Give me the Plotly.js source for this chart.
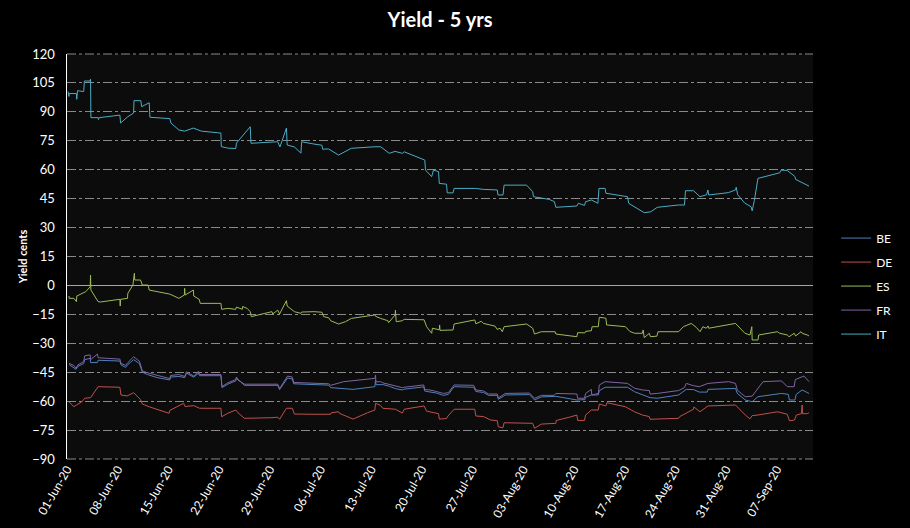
<!DOCTYPE html>
<html>
<head>
<meta charset="utf-8">
<script src="https://cdn.plot.ly/plotly-3.0.1.min.js"></script>
<style>html,body{margin:0;padding:0;background:#000;}#chart{width:910px;height:528px;}</style>
</head>
<body>
<div id="chart"></div>
<script>
// Days since 01-Jun-2020 (fractional) and yield values (cents)
const seriesNames = ["BE", "DE", "ES", "FR", "IT"];
const tickLabels = ["01-Jun-20","08-Jun-20","15-Jun-20","22-Jun-20","29-Jun-20","06-Jul-20","13-Jul-20","20-Jul-20","27-Jul-20","03-Aug-20","10-Aug-20","17-Aug-20","24-Aug-20","31-Aug-20","07-Sep-20"];
const tickDates = ["2020-06-01","2020-06-08","2020-06-15","2020-06-22","2020-06-29","2020-07-06","2020-07-13","2020-07-20","2020-07-27","2020-08-03","2020-08-10","2020-08-17","2020-08-24","2020-08-31","2020-09-07"];

const itDays = [0.15,0.27,0.3,1.3,1.35,1.45,2.3,2.4,3.2,3.25,3.3,4.3,4.35,4.45,7.3,7.4,8.4,9.2,9.25,10.2,10.3,11.35,11.45,14.2,14.35,15.45,16.25,17.45,18.3,18.55,21.25,21.3,22.2,23.3,23.4,25.3,25.4,29.1,29.4,30.3,30.4,31.4,32.3,32.4,34.1,35.2,35.3,36.1,37.5,39.25,42.5,43.3,44.5,45.3,46.3,46.55,49.4,49.5,50.35,50.6,51.3,51.4,52.4,52.5,53.3,53.45,56.4,57.5,59.4,59.5,60.2,60.35,63.45,64.3,64.4,65.2,66.6,67.3,67.5,70.4,70.6,71.45,71.6,72.4,73.3,73.45,74.3,74.4,77.4,77.55,78.75,79.7,80.6,81.5,84.4,85.25,85.4,86.5,87.4,88.3,88.5,88.6,91.3,92.3,92.4,92.6,93.6,94.45,94.6,94.9,95.4,98.4,98.6,99.45,100.5,100.6,102.45];
const itVals = [100.5,98,99.5,99.5,96.5,101,100.5,106,106,107,87,87,86,87,88.3,84.2,87.5,89.4,95.8,95.8,92.7,94.7,87.2,86.5,84.2,80.6,80,81.6,80.6,80,79,72,71.2,71,73.8,82.3,73.7,74.5,71.8,81.6,72.8,71.8,68.6,74.5,73.3,72.7,70.6,70.8,67.6,71.1,71.9,71.9,68.5,69.5,68.5,69.3,65,59.8,56.4,59.8,59,52.9,52.5,48,48,50.3,50.3,49.8,49.5,46.9,46.9,52,52,48.6,46,45.5,44.6,43.4,40.5,41.2,42.6,41.5,43.4,44.3,42.6,50.3,50.3,47.8,46,42.6,40,37.7,38.2,40.5,41.7,41.7,49.1,49.1,46,47,49.5,46.9,48.1,49.5,50.9,47,42.6,40.8,38.7,44,55.5,58.4,59.8,59.6,56.5,55,51.5];

const esDays = [0.27,0.3,0.95,1.3,1.35,2.0,2.6,3.2,3.25,3.3,4.3,4.6,7.3,7.35,7.4,8.35,8.4,9.1,9.3,9.35,10.15,10.4,11.2,11.35,14.2,15.45,16.2,16.25,16.3,17.45,17.5,18.25,18.4,21.25,21.35,22.2,23.3,23.4,24.2,24.25,24.9,25.3,25.45,26.4,28.3,28.4,29.1,29.35,30.3,30.4,31.4,32.3,32.4,34.1,35.2,35.45,36.15,36.4,37.5,38.45,39.25,42.5,42.6,43.3,44.3,44.4,45.3,45.35,45.45,46.3,46.55,49.3,49.65,50.35,50.45,51.4,51.45,51.5,53.3,53.45,56.3,56.45,57.2,57.5,58.5,59.1,59.4,59.8,60.1,60.35,63.45,64.3,64.55,65.5,67.4,67.5,70.4,70.5,71.5,71.6,72.4,72.5,73.35,73.5,74.4,74.5,77.1,77.7,78.35,79.45,79.55,79.7,80.4,80.55,81.45,81.6,84.45,85.1,86.2,86.9,87.4,87.8,88.25,88.5,88.6,92.3,93.6,94.3,94.55,94.6,95.4,95.5,98.1,98.4,99.45,99.7,100.4,100.6,101.35,101.5,102.2,102.45];
const esVals = [-5.5,-6.7,-6.7,-8.4,-5.5,-4.5,-3.2,-0.7,5.4,-2.4,-8.4,-8.6,-7.2,-10.7,-7.2,-6.7,-4.1,0.2,6.3,2.8,2.8,0.2,0.2,-2.4,-4.5,-6.7,-5,-1.5,-5,-2.4,-5.5,-7.2,-9.3,-9.3,-12.4,-11.9,-12.4,-11.2,-12.4,-10.9,-12,-13.6,-16.2,-15.3,-13.6,-14.8,-12.8,-14.8,-7.9,-10.7,-13.6,-14.5,-13.8,-13.6,-13.9,-16.2,-16.8,-18.3,-20,-18.8,-17.1,-15.3,-16,-17.1,-18.3,-19.3,-15.3,-12.8,-18.8,-18.3,-17.6,-17.8,-21.4,-24.8,-22.2,-23,-20.5,-23.3,-23.1,-20,-17.9,-19.9,-18.6,-19.7,-20.6,-21.1,-22.8,-22.2,-24,-21.4,-20,-22.2,-25.2,-24,-24,-25.2,-26.6,-24.5,-24.6,-23.8,-23.5,-21.4,-21.4,-16.5,-17,-20.5,-21.4,-23.8,-24.8,-24.8,-23.1,-27.1,-24.8,-26.6,-26.3,-24,-24,-21.4,-19.7,-21.8,-24,-21.4,-22.2,-21,-22.2,-19.7,-24.8,-25.7,-21.4,-28.3,-28.3,-25.7,-24,-24.8,-25.7,-26.6,-24.8,-26.2,-24,-24.8,-25.7,-26.2];

const frDays = [0.27,0.95,1.25,1.5,2.3,2.45,3.2,3.25,4.2,4.3,7.3,7.45,8.1,8.4,9.2,10.0,10.3,10.4,11.1,12.45,14.2,14.3,15.45,16.25,16.5,17.5,18.15,18.3,21.25,21.4,22.2,23.3,23.4,23.6,24.5,29.1,29.35,30.45,31.1,31.3,34.1,35.1,36.15,36.4,38.2,42.5,42.6,42.65,43.3,43.6,44.5,45.35,46.3,46.55,49.25,49.4,50.1,51.0,51.95,52.65,53.45,56.15,56.45,57.5,58.2,59.4,59.55,60.2,60.5,63.85,64.55,65.5,67.25,67.5,69.3,70.4,70.5,71.45,71.6,72.4,72.45,73.35,73.5,74.3,77.4,78.35,79.45,80.4,80.5,81.5,84.45,85.25,85.5,86.5,87.3,88.5,91.35,92.3,92.55,93.25,93.65,94.6,95.4,96.1,98.65,99.45,100.4,100.55,101.75,102.45];
const frVals = [-40.4,-41.5,-43,-41.2,-39.5,-36.5,-36,-38.5,-35.6,-37.5,-38.2,-40.4,-41.5,-40,-37,-39.3,-43,-44.3,-45.3,-46.7,-48.3,-46.7,-46.2,-47.2,-44.8,-47,-44.5,-46.2,-46.2,-52.5,-50.5,-48.8,-47.5,-49,-51.2,-51.2,-53.5,-47,-47.5,-50.3,-50.8,-51,-51,-51.8,-49.9,-48.2,-46.5,-50,-49.9,-50.5,-51.4,-52.3,-53,-52.8,-51.6,-54,-54.2,-55,-56,-55.6,-51.6,-51.8,-54.2,-54.7,-56.3,-56.3,-58.3,-56.8,-56,-55.8,-58.5,-57,-57,-56,-56.4,-56.3,-58.5,-58.5,-56,-53.9,-56.8,-56,-51.6,-49.9,-50.8,-53.3,-54.2,-54.5,-56.3,-56,-54.5,-53,-50.8,-52,-52.5,-50.8,-49.9,-50.8,-54.3,-56.8,-57.7,-57.4,-53.4,-49.9,-49.5,-52.5,-52.5,-48.8,-47,-49.9];

const beDays = [0.27,0.95,1.25,1.5,2.3,2.45,3.2,3.25,4.2,4.3,7.3,7.45,8.1,8.4,9.2,10.0,10.3,10.4,11.1,12.45,14.2,14.3,15.45,16.25,16.5,17.5,18.15,18.3,21.25,21.4,22.2,23.3,23.4,24.5,29.1,29.35,30.45,31.1,31.3,34.1,35.1,36.15,36.4,39.5,42.5,42.6,42.65,43.6,44.5,45.35,46.3,46.55,49.25,49.4,51.0,51.95,52.65,53.45,56.15,56.45,57.5,58.2,59.4,59.55,60.2,60.5,63.85,64.55,65.5,67.25,67.5,70.4,71.5,71.6,72.4,73.35,73.5,74.3,77.4,78.35,79.45,80.5,81.5,84.45,85.5,86.5,87.3,88.4,88.5,92.3,92.55,93.65,94.6,95.4,98.65,99.6,99.73,100.5,100.68,101.5,102.45];
const beVals = [-41,-42.5,-43.5,-42,-40.5,-38.5,-37.8,-40,-40,-38.8,-39.2,-41.2,-42.5,-41,-38.5,-40.5,-44,-45,-46.2,-47.8,-49,-47.5,-47.2,-47.8,-45.5,-47.6,-45.5,-46.8,-46.8,-53,-51.2,-49.5,-48,-51.8,-51.8,-54,-48,-48.5,-51,-51.3,-51.5,-51.7,-53,-53.9,-52.5,-49,-51.5,-51.4,-52.3,-53.5,-54.2,-53.8,-52.6,-54.8,-55.8,-57,-56.5,-52.5,-52.8,-55,-55.5,-57,-57,-59,-57.6,-56.8,-56.6,-59.4,-57.8,-57.8,-57.5,-59.4,-59.2,-58,-56.8,-56.8,-54.6,-52.8,-52.8,-55.1,-56.8,-58.2,-58.5,-56.8,-53.9,-54,-55.3,-55.3,-53.9,-53.4,-56,-59.4,-60.3,-57.7,-56,-56.5,-59.4,-59.4,-56.5,-54.2,-56];

const deDays = [0.27,0.95,1.3,2.0,2.45,3.25,4.3,7.3,7.45,8.3,9.2,10.15,10.4,11.4,14.1,14.2,16.1,16.3,17.5,18.3,21.25,21.35,22.2,23.3,23.6,24.5,28.3,29.1,29.35,30.3,31.1,31.4,34.1,36.4,36.5,37.5,37.6,39.5,41.5,42.5,42.6,43.3,43.6,45.35,46.3,46.55,49.3,49.65,51.3,51.4,52.4,52.6,53.45,56.3,56.45,57.5,58.5,59.4,59.55,60.2,60.35,63.45,64.3,64.55,65.5,67.5,67.55,69.3,70.4,70.5,71.45,71.6,72.4,73.35,73.5,74.4,74.55,77.1,78.35,79.45,80.4,80.5,84.45,84.6,85.5,86.5,86.55,87.4,88.5,92.3,93.65,94.3,94.6,95.4,98.1,99.45,99.75,100.45,100.7,101.4,101.5,101.55,102.2,102.45];
const deVals = [-60.3,-62.9,-62,-60.5,-58.5,-58.2,-52.5,-52.8,-56.8,-57.3,-55.6,-59.2,-61.5,-63,-66.3,-64.8,-61.1,-62.8,-62.3,-63.7,-63.7,-68.1,-66.3,-64.6,-66,-68.9,-68.6,-68.3,-69.4,-63.7,-63.7,-66.7,-66.8,-66.8,-66,-65.5,-66.3,-69.3,-66,-64.6,-61.1,-62.3,-63.7,-64.2,-66.2,-64.2,-62.5,-65.2,-66.5,-69.3,-69,-67.7,-64.2,-64.2,-67.7,-68,-69.8,-70.1,-73.3,-73.8,-71.2,-71.2,-71.5,-74.1,-71.9,-71.5,-70,-68.4,-67.2,-70,-70,-67.2,-64.6,-64.6,-61.5,-62.5,-60.8,-62.9,-65.5,-67.2,-68,-69.4,-68.9,-68,-66,-64.2,-63,-65.5,-62.5,-62,-67.2,-69.2,-67.5,-67.2,-65.5,-66.8,-70.2,-69.8,-67.2,-66.5,-62,-66.5,-66.5,-66];

const colors = {BE:"#4f81bd", DE:"#c0504d", ES:"#9bbb59", FR:"#8064a2", IT:"#4bacc6"};
const base = Date.UTC(2020, 5, 1);
const toTime = ds => ds.map(d => base + d * 86400000);

const data = [
  [beDays, beVals], [deDays, deVals], [esDays, esVals], [frDays, frVals], [itDays, itVals]
].map(([d, v], i) => ({
  type: "scatter", mode: "lines", name: seriesNames[i], legendgroup: seriesNames[i],
  x: toTime(d), y: v,
  line: {color: colors[seriesNames[i]], width: 1}
}));

const font = "Lato, 'Open Sans', sans-serif";
const layout = {
  width: 910, height: 528,
  paper_bgcolor: "#000000", plot_bgcolor: "#0c0c0c",
  margin: {l: 67, r: 82, t: 54, b: 69},
  font: {family: font, color: "#ffffff", size: 12},
  title: {text: "<b>Yield - 5 yrs</b>", x: 0.5, xref: "paper", y: 0.975, yref: "container", xanchor: "center", yanchor: "top",
          font: {family: font, size: 20, color: "#ffffff"}},
  xaxis: {
    type: "date", range: ["2020-06-01", "2020-09-12"],
    tickmode: "array", tickvals: tickDates, ticktext: tickLabels, tickangle: -60,
    showgrid: false, zeroline: false, showline: false, ticks: "",
    tickfont: {family: font, size: 12, color: "#ffffff"}
  },
  yaxis: {
    range: [-90, 120], tickmode: "linear", tick0: -90, dtick: 15,
    showgrid: true, gridcolor: "#8a8a8a", griddash: "dashdot", gridwidth: 1,
    zeroline: true, zerolinecolor: "#a6a6a6", zerolinewidth: 1,
    showline: true, linecolor: "#ffffff", linewidth: 1.5,
    ticks: "", ticklabelstandoff: 8,
    tickfont: {family: font, size: 13, color: "#ffffff"},
    title: {text: "<b>Yield cents</b>", font: {family: font, size: 11, color: "#ffffff"}, standoff: 2}
  },
  shapes: [
    {type: "line", xref: "paper", yref: "paper", x0: 0, x1: 1, y0: 0, y1: 0, line: {color: "#8a8a8a", width: 1, dash: "dashdot"}},
    {type: "line", xref: "paper", yref: "paper", x0: 0, x1: 1, y0: 1, y1: 1, line: {color: "#8a8a8a", width: 1, dash: "dashdot"}}
  ],
  legend: {x: 1.031, xanchor: "left", y: 0.427, yanchor: "middle", bgcolor: "rgba(0,0,0,0)",
           font: {family: font, size: 12, color: "#ffffff"}, tracegroupgap: 5, itemwidth: 30},
  showlegend: true
};

Plotly.newPlot("chart", data, layout, {displayModeBar: false, staticPlot: true});
</script>
</body>
</html>
